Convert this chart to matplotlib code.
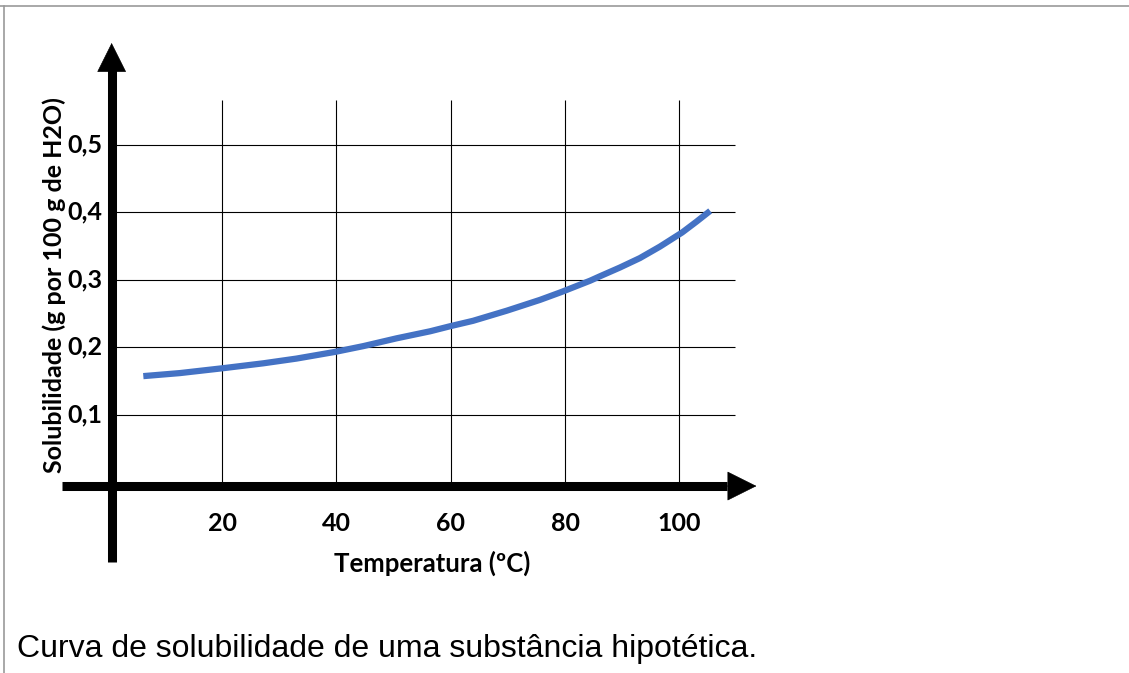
import matplotlib
matplotlib.use("Agg")
from matplotlib import pyplot as plt
from matplotlib.lines import Line2D

# data
temps = [6.2, 12.6, 20.4, 27.2, 33.0, 39.8, 44.7, 50.5, 56.4, 59.9, 63.9,
         69.8, 75.6, 79.3, 84.4, 86.1, 89.6, 93.1, 96.6, 100.5, 103.0, 105.4]
solub = [0.157, 0.1615, 0.169, 0.176, 0.183, 0.193, 0.2015, 0.213, 0.2235, 0.231, 0.239,
         0.254, 0.270, 0.2815, 0.2985, 0.305, 0.318, 0.332, 0.349, 0.370, 0.386, 0.402]

x_ticks = [20, 40, 60, 80, 100]
y_ticks = [0.1, 0.2, 0.3, 0.4, 0.5]
y_tick_labels = ["0,1", "0,2", "0,3", "0,4", "0,5"]

x_label = "Temperatura (ºC)"
y_label = "Solubilidade (g por 100 g de H2O)"
caption = "Curva de solubilidade de uma substância hipotética."

fig = plt.figure(figsize=(11.29, 6.73), dpi=100)
ax = fig.add_axes([0, 0, 1, 1])
ax.set_xlim(-18.88, 178.7)
ax.set_ylim(-0.2832, 0.7147)
ax.axis("off")

# grid
ax.hlines(y_ticks, 0, 109.7, color="black", lw=0.8)
ax.vlines(x_ticks, 0, 0.566, color="black", lw=0.8)

# axes with arrows
def arrow(x0, y0, x1, y1, xb, yb):
    ax.plot([x0, xb], [y0, yb], color="black", lw=6.5, solid_capstyle="butt")
    ax.annotate("", xy=(x1, y1), xytext=(xb, yb),
                arrowprops=dict(arrowstyle="-|>,head_length=1,head_width=0.5",
                                mutation_scale=20, lw=0.5, color="black",
                                shrinkA=0, shrinkB=0))

# y axis
arrow(0.66, -0.119, 0.66, 0.651, 0.66, 0.612)
# x axis
arrow(-8.0, -0.006, 113.5, -0.006, 108.3, -0.006)

# curve
ax.plot(temps, solub, color="#4472C4", lw=4.5, solid_capstyle="butt",
        solid_joinstyle="round")

font = ["Lato", "DejaVu Sans"]
for t in x_ticks:
    ax.text(t, -0.061, str(t), ha="center", va="center", fontsize=18,
            fontweight="bold", family=font)
for v, lab in zip(y_ticks, y_tick_labels):
    ax.text(-0.9, v, lab, ha="right", va="center", fontsize=18,
            fontweight="bold", family=font)

ax.text(56.7, -0.12, x_label, ha="center", va="center", fontsize=18.5,
        fontweight="bold", family=font)
ax.text(-9.4, 0.292, y_label, ha="center", va="center", rotation=90,
        fontsize=18, fontweight="bold", family=font)

ax.text(-15.9, -0.2595, caption, ha="left", va="baseline", fontsize=23,
        family=["Liberation Sans", "DejaVu Sans"])

# frame lines of the cell
fig.add_artist(Line2D([0, 1], [1 - 6 / 673, 1 - 6 / 673], color="#999999", lw=1.2))
fig.add_artist(Line2D([3.5 / 1129, 3.5 / 1129], [0, 1 - 6 / 673], color="#999999", lw=1.2))

fig.savefig("out.png", dpi=100)
